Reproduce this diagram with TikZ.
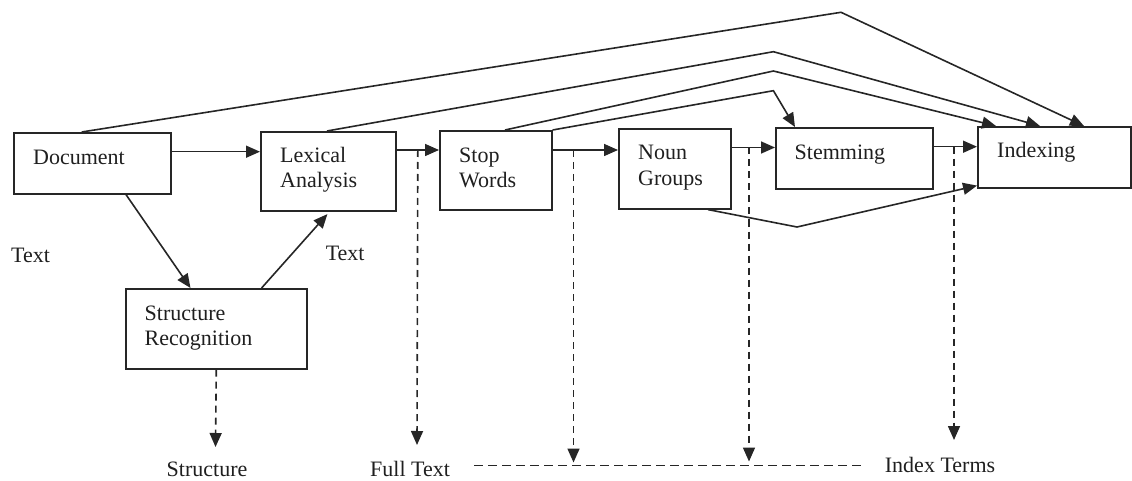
\documentclass[tikz,border=0pt]{standalone}
\usepackage{fontspec}
\setmainfont{Liberation Serif}
\usetikzlibrary{arrows.meta,calc}
% two left-aligned lines whose first baseline is the node's baseline
\newcommand\twolines[2]{\begin{tabular}[t]{@{}l@{}}#1\\#2\end{tabular}}

\begin{document}
\begin{tikzpicture}[x=1pt,y=-1pt,
  ink/.style={draw=black!85, line width=1.6pt},
  box/.style={ink, rectangle, inner sep=0pt, anchor=north west},
  lbl/.style={inner sep=0pt, anchor=base west, font=\fontsize{22}{25.5}\selectfont, text=black!88},
  arr/.style={ink, line join=miter, -{Triangle[length=14pt,width=12pt]}},
  dasharr/.style={arr, dash pattern=on 7pt off 5pt},
  dashline/.style={ink, dash pattern=on 9pt off 5pt}
]
\useasboundingbox (0,0) rectangle (1132,481);

% processing stages
\node[box, minimum width=157pt, minimum height=61pt] (doc)  at (13,132)  {};
\node[box, minimum width=135pt, minimum height=79pt] (lex)  at (260,131) {};
\node[box, minimum width=112pt, minimum height=79pt] (stop) at (439,130) {};
\node[box, minimum width=112pt, minimum height=80pt] (noun) at (618,128) {};
\node[box, minimum width=157pt, minimum height=61pt] (stem) at (775,127) {};
\node[box, minimum width=153pt, minimum height=61pt] (idx)  at (977,126) {};
\node[box, minimum width=181pt, minimum height=80pt] (str)  at (125,288) {};

% stage names
\node[lbl] (doc-t)  at ([xshift=20pt,yshift=-32.5pt]doc.north west)  {Document};
\node[lbl] (lex-t)  at ([xshift=20pt,yshift=-31.5pt]lex.north west)  {\twolines{Lexical}{Analysis}};
\node[lbl] (stop-t) at ([xshift=20pt,yshift=-32.5pt]stop.north west) {\twolines{Stop}{Words}};
\node[lbl] (noun-t) at ([xshift=20pt,yshift=-32pt]noun.north west)   {\twolines{Noun}{Groups}};
\node[lbl] (stem-t) at ([xshift=19.5pt,yshift=-33pt]stem.north west) {Stemming};
\node[lbl] (idx-t)  at ([xshift=20pt,yshift=-31.5pt]idx.north west)  {Indexing};
\node[lbl] (str-t)  at ([xshift=19.5pt,yshift=-32pt]str.north west)  {\twolines{Structure}{Recognition}};

% free labels
\node[lbl] (txt-l)      at (11,262)      {Text};
\node[lbl] (txt-r)      at (325.6,260.7) {Text};
\node[lbl] (out-struct) at (166.5,476.7) {Structure};
\node[lbl] (out-full)   at (370,476)     {Full Text};
\node[lbl] (out-index)  at (884.7,472.7) {Index Terms};

% main flow, left to right
\coordinate (f1) at ([yshift=-19.7pt]doc.north east);
\coordinate (f2) at ([yshift=-19pt]lex.north east);
\coordinate (f3) at ([yshift=-20pt]stop.north east);
\coordinate (f4) at ([yshift=-19.5pt]noun.north east);
\coordinate (f5) at ([yshift=-19.7pt]stem.north east);
\draw[arr] (f1) -- (f1 -| lex.west);
\draw[arr] (f2) -- (f2 -| stop.west);
\draw[arr] (f3) -- (f3 -| noun.west);
\draw[arr] (f4) -- (f4 -| stem.west);
\draw[arr] (f5) -- (f5 -| idx.west);

% bypass routes over the top
\coordinate (pA) at (841,12.3);
\coordinate (pB) at (773.4,51.7);
\coordinate (pC) at (773.4,71);
\coordinate (pD) at (773.4,90.7);
\coordinate (pG) at (797,227);
\draw[arr] ([xshift=68.7pt]doc.north west) -- (pA) -- ([xshift=107pt]idx.north west);
\draw[arr] ([xshift=67pt]lex.north west)   -- (pB) -- ([xshift=63pt]idx.north west);
\draw[arr] ([xshift=66pt]stop.north west)  -- (pC) -- ([xshift=19pt]idx.north west);
\draw[arr] (stop.north east)               -- (pD) -- ([xshift=20pt]stem.north west);
\draw[arr] ([xshift=90pt]noun.south west)  -- (pG) -- ([yshift=3pt]idx.south west);

% structure recognition branch
\draw[arr] ([xshift=113pt]doc.south west) -- ([xshift=65.5pt]str.north west);
\draw[arr] ([xshift=136.6pt]str.north west) -- ([xshift=67.4pt,yshift=-2.5pt]lex.south west);

% outputs
\coordinate (s1) at ($(f2)!0.5!(f2 -| stop.west)$);
\coordinate (e1) at (417,445);
\coordinate (s2) at (573.5,150);
\coordinate (e2) at (573.5,462.5);
\coordinate (s3) at (749,147.5);
\coordinate (e3) at (749,461.5);
\coordinate (s4) at (954,146.7);
\coordinate (e4) at (954,440);
\coordinate (e5) at (215.5,447);
\coordinate (h1) at (474,465.5);
\coordinate (h2) at (863,465.5);
\draw[dasharr] (str.south) -- (e5);
\draw[dasharr] (s1) -- (e1);
\draw[dasharr] (s2) -- (e2);
\draw[dasharr] (s3) -- (e3);
\draw[dasharr] (s4) -- (e4);
\draw[dashline] (h1) -- (h2);
\end{tikzpicture}
\end{document}
